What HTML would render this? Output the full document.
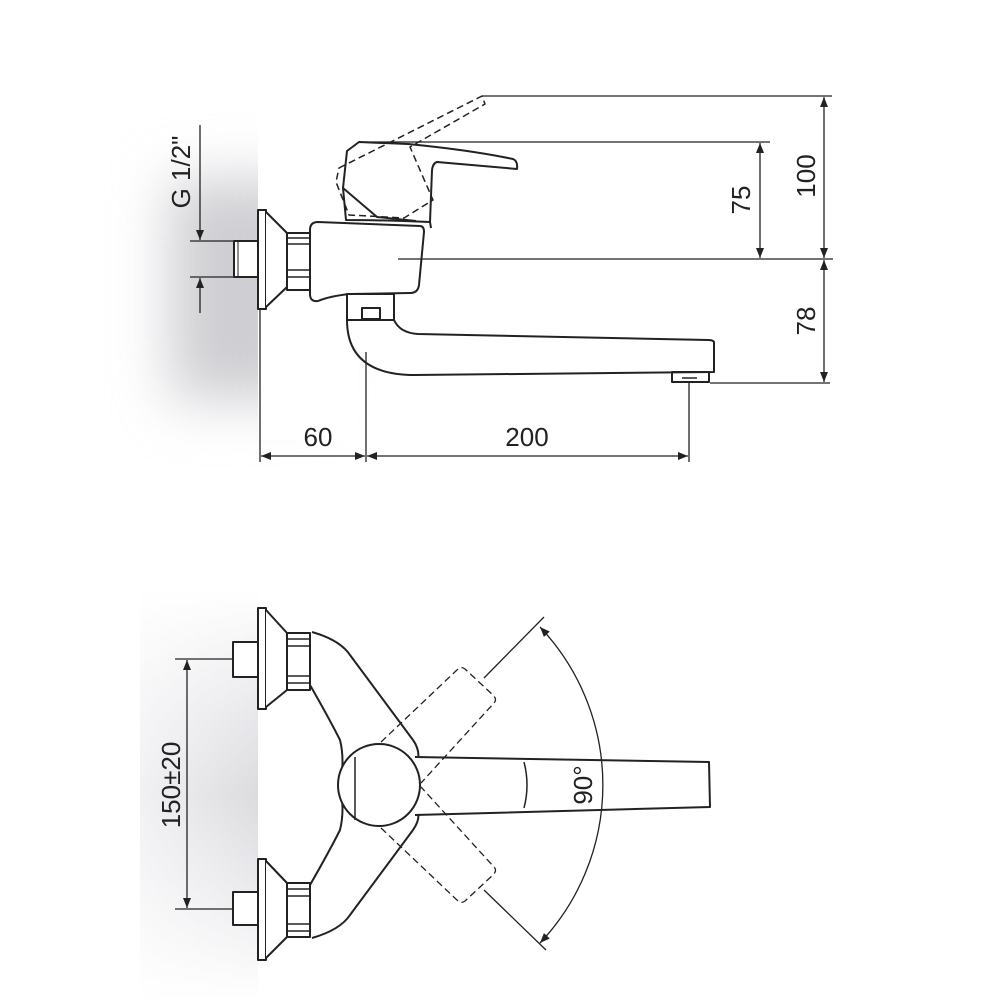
<!DOCTYPE html>
<html><head><meta charset="utf-8"><style>
html,body{margin:0;padding:0;background:#fff}
svg{display:block}
text{font-family:"Liberation Sans",sans-serif;font-size:26px;fill:#222}
</style></head><body>
<svg width="1000" height="1000" viewBox="0 0 1000 1000" xmlns="http://www.w3.org/2000/svg">
<defs>
<filter id="bl" x="-50%" y="-50%" width="200%" height="200%"><feGaussianBlur stdDeviation="28"/></filter>
<linearGradient id="wg2" x1="0" x2="0" y1="0" y2="1"><stop offset="0" stop-color="#fff"/><stop offset="0.3" stop-color="#e6e6ea"/><stop offset="0.5" stop-color="#d8d8dc"/><stop offset="0.7" stop-color="#e6e6ea"/><stop offset="1" stop-color="#fff"/></linearGradient>
<linearGradient id="wh" x1="0" x2="1" y1="0" y2="0"><stop offset="0" stop-color="#fff" stop-opacity="0.6"/><stop offset="1" stop-color="#fff" stop-opacity="0"/></linearGradient>
<marker id="ar" viewBox="0 0 10 10" refX="10" refY="5" markerWidth="10" markerHeight="10" markerUnits="userSpaceOnUse" orient="auto-start-reverse"><path d="M0,1 L10,5 L0,9 z" fill="#222"/></marker>
</defs>
<!-- wall shading -->
<g filter="url(#bl)"><rect x="170" y="180" width="140" height="220" fill="#cfcfd3"/></g>
<rect x="140" y="590" width="118" height="410" fill="url(#wg2)" opacity="0.9"/>
<rect x="140" y="590" width="118" height="410" fill="url(#wh)"/>
<rect x="258" y="100" width="100" height="340" fill="#fff"/>
<rect x="258" y="590" width="100" height="410" fill="#fff"/>

<g fill="none" stroke="#222" stroke-width="2" stroke-linejoin="round">
<rect x="234" y="241" width="24" height="36" fill="#fff"/>
<line x1="238" y1="241" x2="238" y2="277" stroke-width="1"/>
<rect x="258" y="210" width="8" height="99" fill="#fff"/>
<path d="M266,212 L287,233 L287,287 L266,307" fill="#fff"/>
<rect x="287" y="233" width="23" height="57" fill="#fff"/>
<path d="M287,238 H310 M287,244 H310 M287,270 H310 M287,277 H310" stroke-width="1.5"/>
<path d="M318,222 L420,226 Q424,226 424,232 L419,285 Q418,293 410,293 L350,294 Q330,296 318,301 Q310,302 310,294 L310,230 Q310,222 318,222 Z" fill="#fff"/>
<path d="M346,220 L343,188 L347,151 L359,142 L408,144 Q470,150 513,159 Q518,161 517,169 L437,162 Q433,163 432,170 L430,222 Q380,220 346,220 Z" fill="#fff"/>
<path d="M343,188 L377,217 L416,221" stroke-width="2"/>
<path d="M430,222 L431,228" />
<path d="M339,168 L482,96 L485,104 L410,147 L433,200 L404,218 L349,215 L336,182 Z" stroke-dasharray="7,4" stroke-width="1.5"/>
<rect x="347" y="294" width="47" height="26" fill="#fff"/>
<rect x="362" y="308" width="18" height="11"/>
<path d="M347,320 Q347,375 415,375 L714,372 L714,342 Q713,340 708,340 L418,334 Q400,333 394,320 Z" fill="#fff"/>
<rect x="672" y="372" width="37" height="10"/>
<line x1="682" y1="378" x2="697" y2="378" stroke-width="1.5"/>
</g>

<g stroke="#222" stroke-width="1.3" fill="none">
<line x1="482" y1="96" x2="832" y2="96"/>
<line x1="359" y1="142" x2="770" y2="142"/>
<line x1="398" y1="259" x2="833" y2="259"/>
<line x1="710" y1="383" x2="830" y2="383"/>
<line x1="760" y1="143" x2="760" y2="258" marker-start="url(#ar)" marker-end="url(#ar)"/>
<line x1="824" y1="97" x2="824" y2="258" marker-start="url(#ar)" marker-end="url(#ar)"/>
<line x1="824" y1="260" x2="824" y2="382" marker-start="url(#ar)" marker-end="url(#ar)"/>
<line x1="260" y1="310" x2="260" y2="462"/>
<line x1="366" y1="352" x2="366" y2="462"/>
<line x1="689" y1="383" x2="689" y2="462"/>
<line x1="261" y1="456" x2="365" y2="456" marker-start="url(#ar)" marker-end="url(#ar)"/>
<line x1="367" y1="456" x2="688" y2="456" marker-start="url(#ar)" marker-end="url(#ar)"/>
<line x1="190" y1="241" x2="234" y2="241"/>
<line x1="190" y1="277" x2="234" y2="277"/>
<line x1="200" y1="125" x2="200" y2="240" marker-end="url(#ar)"/>
<line x1="200" y1="313" x2="200" y2="278" marker-end="url(#ar)"/>
</g>
<text x="318" y="446" text-anchor="middle">60</text>
<text x="527" y="446" text-anchor="middle">200</text>
<text transform="translate(750,200) rotate(-90)" text-anchor="middle">75</text>
<text transform="translate(815,176) rotate(-90)" text-anchor="middle">100</text>
<text transform="translate(815,321) rotate(-90)" text-anchor="middle">78</text>
<text transform="translate(190,172) rotate(-90)" text-anchor="middle">G 1/2"</text>

<g fill="none" stroke="#222" stroke-width="2" stroke-linejoin="round">
<path d="M312,632 Q340,640 350,655 L413,740 Q420,750 418,760 M418,812 Q420,820 413,830 L350,915 Q340,930 312,938 M310,685 Q330,720 340,740 Q345,760 340,785 Q345,810 340,830 Q330,850 310,885" fill="none"/>
<path d="M415,756 L709,762 L710,807 L415,815 Z" fill="#fff" stroke="none"/>
<circle cx="379" cy="785" r="41" fill="#fff"/>
<line x1="355" y1="757" x2="355" y2="820" stroke-width="1.5"/>
<path d="M415,757 L709,762 L710,807 L415,815"/>
<path d="M524,762 Q530,785 524,808" stroke-width="1.5"/>
<path d="M381,742 L458,669 Q461,666 465,669 L494,696 Q497,700 494,703 L421,783" stroke-dasharray="7,4" stroke-width="1.3"/>
<path d="M381,828 L458,901 Q461,904 465,901 L494,874 Q497,870 494,867 L421,787" stroke-dasharray="7,4" stroke-width="1.3"/>
<rect x="233" y="642" width="25" height="35" fill="#fff"/>
<rect x="258" y="608" width="8" height="101" fill="#fff"/>
<path d="M266,610 L287,633 L287,690 L266,707" fill="#fff"/>
<rect x="287" y="633" width="23" height="57" fill="#fff"/>
<path d="M287,639 H310 M287,646 H310 M287,676 H310 M287,683 H310" stroke-width="1.5"/>
<rect x="233" y="892" width="25" height="33" fill="#fff"/>
<rect x="258" y="859" width="8" height="101" fill="#fff"/>
<path d="M266,861 L287,883 L287,937 L266,958" fill="#fff"/>
<rect x="287" y="883" width="23" height="54" fill="#fff"/>
<path d="M287,889 H310 M287,896 H310 M287,924 H310 M287,931 H310" stroke-width="1.5"/>
</g>
<g stroke="#222" stroke-width="1.3" fill="none">
<line x1="175" y1="659" x2="233" y2="659"/>
<line x1="175" y1="909" x2="233" y2="909"/>
<line x1="187" y1="660" x2="187" y2="908" marker-start="url(#ar)" marker-end="url(#ar)"/>
<line x1="484" y1="678" x2="544" y2="617"/>
<line x1="484" y1="890" x2="546" y2="950"/>
<path d="M540,627 A230,230 0 0 1 540,943" marker-start="url(#ar)" marker-end="url(#ar)"/>
</g>
<text transform="translate(180,785) rotate(-90)" text-anchor="middle">150±20</text>
<text transform="translate(592,785) rotate(-90)" text-anchor="middle">90°</text>
</svg>
</body></html>
